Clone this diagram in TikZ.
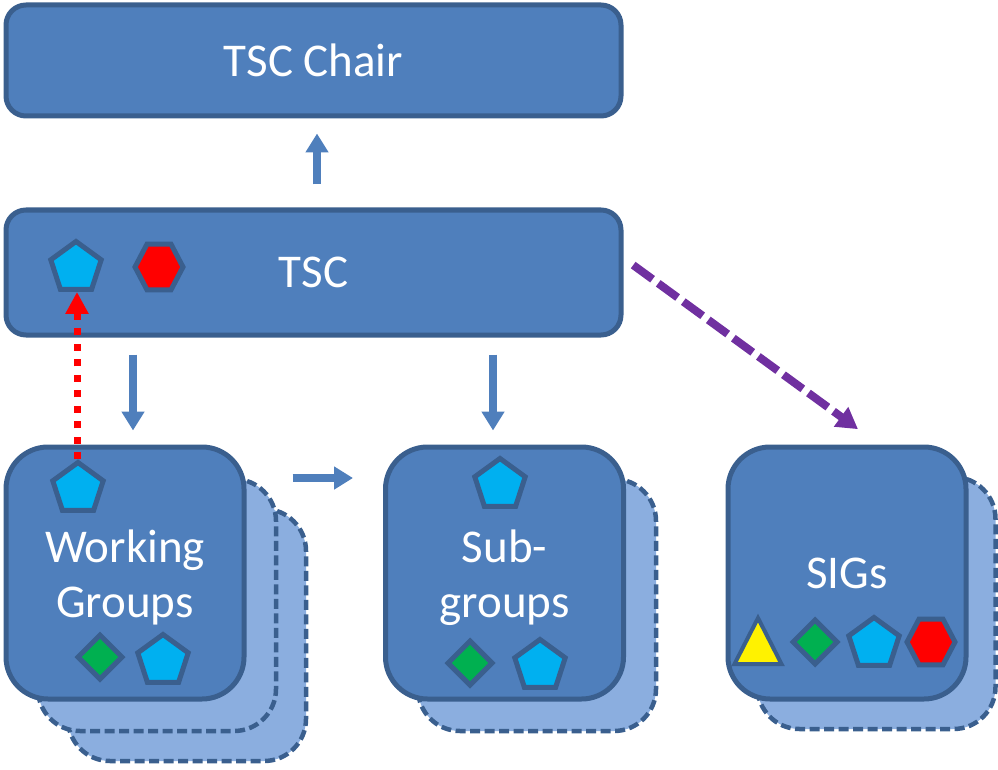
\documentclass[tikz,border=0pt]{standalone}
\usepackage{fontspec}
\setmainfont{Carlito}
\usetikzlibrary{shapes.geometric,arrows.meta,calc}
\definecolor{boxfill}{HTML}{4F7FBC}
\definecolor{boxline}{HTML}{3A5F8E}
\definecolor{backfill}{HTML}{8BAEDF}
\definecolor{cyanish}{HTML}{00B0F0}
\definecolor{greenish}{HTML}{00B050}
\definecolor{purplish}{HTML}{7030A0}
\tikzset{
  x=1pt,y=-1pt,
  mainbox/.style={draw=boxline,fill=boxfill,line width=5pt,inner sep=0pt,text=white,align=center,font=\fontsize{47}{55}\selectfont},
  widebox/.style={mainbox,minimum width=615pt,rounded corners=20pt},
  squarebox/.style={mainbox,minimum width=238pt,minimum height=252pt,rounded corners=42pt},
  backbox/.style={draw=boxline,fill=backfill,line width=4.5pt,dash pattern=on 10pt off 4.5pt,minimum width=238pt,minimum height=252pt,rounded corners=42pt,inner sep=0pt},
  badge/.style={draw=boxline,line width=5pt,inner sep=0pt,line join=miter},
  penta/.style={badge,fill=cyanish,regular polygon,regular polygon sides=5,minimum size=53pt},
  hexa/.style={badge,fill=red,regular polygon,regular polygon sides=6,minimum size=48pt,yscale=1.1,transform shape},
  rhomb/.style={badge,fill=greenish,diamond,aspect=1,minimum width=46pt,minimum height=46pt},
  trian/.style={badge,line width=4pt,fill=yellow,isosceles triangle,isosceles triangle stretches,shape border rotate=90,minimum width=47pt,minimum height=46pt,anchor=lower side},
  flow/.style={draw=boxfill,line width=8pt,-{Triangle[length=19pt,width=22pt]}},
}
\newcommand{\firstline}{\rule{0pt}{42pt}}
\begin{document}
\begin{tikzpicture}
\useasboundingbox (0,0) rectangle (998,770);
% Stacks behind
\node[backbox] (wgb2) at (187,635) {};
\node[backbox] (wgb1) at (157,605) {};
\node[backbox] (sgb) at (537,605) {};
\node[backbox] (sigb) at (876.5,603) {};
% Main boxes
\node[widebox,minimum height=111pt] (chair) at (313.5,60.5) {TSC Chair};
\node[widebox,minimum height=125pt] (tsc) at (313.5,272.5) {TSC};
\node[squarebox] (wg) at (125,573) {\firstline Working\\Groups};
\node[squarebox] (sg) at (504.5,573) {\firstline Sub-\\groups};
\node[squarebox] (sig) at (847,573) {SIGs};
% Badges
\node[penta] (ptsc) at (76,268) {};
\node[hexa] (htsc) at (159,267) {};
\node[penta] (pwgt) at (78,489) {};
\node[rhomb] (dwg) at (100,657) {};
\node[penta] (pwgb) at (163,661) {};
\node[penta] (psgt) at (500,485) {};
\node[rhomb] (dsg) at (470,663) {};
\node[penta] (psgb) at (540,666) {};
\node[trian] (tsig) at (758,666) {};
\node[rhomb] (dsig) at (815,642) {};
\node[penta] (psig) at (874,644) {};
\node[hexa] (hsig) at (931,642) {};
% Connectors
\draw[flow,shorten <=23pt,shorten >=15pt] ([xshift=3.5pt]tsc.north) -- ([xshift=3.5pt]chair.south);
\draw[flow,shorten <=17pt,shorten >=14pt] ([xshift=8pt]tsc.south -| wg.north) -- ([xshift=8pt]wg.north);
\draw[flow,shorten <=17pt,shorten >=14pt] ([xshift=-11.5pt]tsc.south -| sg.north) -- ([xshift=-11.5pt]sg.north);
\draw[flow,shorten <=46pt,shorten >=30pt] ([yshift=95pt]wg.east) -- ([yshift=95pt]sg.west);
\coordinate (pa) at ([yshift=14.5pt]tsc.east);
\coordinate (pb) at ([xshift=32pt]sig.north);
\draw[purplish,line width=8pt,dash pattern=on 24pt off 7pt,-{Triangle[length=21pt,width=23pt]}]
  ($(pa)!12pt!(pb)$) -- ($(pb)!26pt!(pa)$);
\draw[red,line width=7pt,dash pattern=on 7pt off 8.5pt,-{Triangle[length=22pt,width=22pt]}]
  ([xshift=-1pt]pwgt.north) -- ([xshift=1pt]ptsc.south);
\end{tikzpicture}
\end{document}
